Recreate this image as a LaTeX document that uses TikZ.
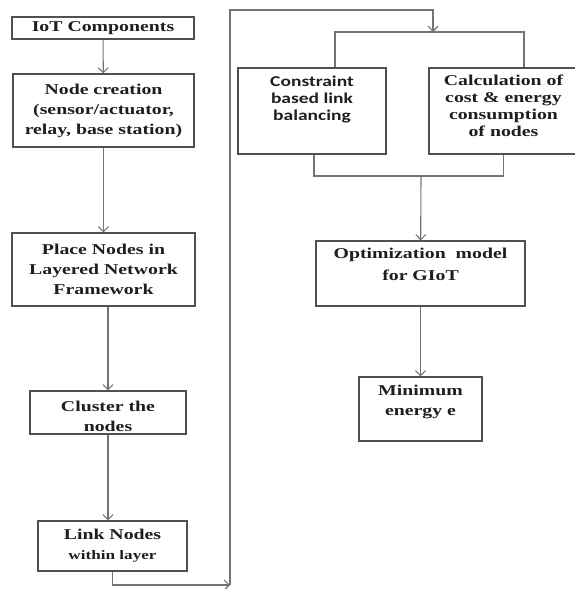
\documentclass[tikz,border=0pt]{standalone}
\usepackage{fontspec}
\setmainfont{Liberation Serif}[FakeStretch=1.32]
\newfontfamily\calfont{Carlito}[FakeStretch=1.3]
\usetikzlibrary{arrows.meta}
\definecolor{boxgray}{RGB}{80,80,80}
\definecolor{linegray}{RGB}{115,115,115}
\definecolor{textgray}{RGB}{30,30,30}
\tikzset{flow box/.style={rectangle,draw=boxgray,line width=1.1pt,align=center,inner sep=0pt,text=textgray,font=\fontsize{15}{20}\selectfont\bfseries},}
\tikzset{flow line/.style={draw=linegray,line width=1.1pt},}
\tikzset{flow arrow/.style={flow line,-{Straight Barb[length=5pt,width=10pt]}},}

\begin{document}
\begin{tikzpicture}[x=1pt,y=-1pt]
   \useasboundingbox (0,0) rectangle (574,589);

   % left column
   \node[flow box,minimum width=182pt,minimum height=22pt] (iot) at (103,28) {IoT Components};
   \node[flow box,minimum width=181pt,minimum height=73pt] (create) at (103.5,110.5) {Node creation\\(sensor/actuator,\\relay, base station)};
   \node[flow box,minimum width=183pt,minimum height=73pt] (place) at (103.5,269.5) {Place Nodes in\\Layered Network\\Framework};
   \node[flow box,minimum width=156pt,minimum height=43pt,text height=40pt,text depth=3pt] (cluster) at (108,412.5) {Cluster the\\nodes};
   \node[flow box,minimum width=149pt,minimum height=50pt] (link) at (112.5,546) {Link Nodes\\{\fontsize{13}{15}\selectfont within layer}};

   % right column
   \node[flow box,minimum width=148pt,minimum height=86pt,text depth=25pt,font=\fontsize{15}{17}\selectfont\bfseries\calfont] (constr) at (312,111) {Constraint\\based link\\balancing};
   \node[flow box,minimum width=149pt,minimum height=86pt,text depth=10pt,font=\fontsize{15}{17}\selectfont\bfseries] (calc) at (503.5,111) {Calculation of\\cost \& energy\\consumption\\of nodes};
   \node[flow box,minimum width=209pt,minimum height=65pt,text depth=19pt,font=\fontsize{15}{22}\selectfont\bfseries] (optim) at (420.5,273.5) {Optimization\ \ model\\for GIoT};
   \node[flow box,minimum width=123pt,minimum height=64pt,text depth=18pt] (mine) at (420.5,409) {Minimum\\energy e};

   \coordinate (turn) at (230,585);
   \coordinate (top) at (230,10);
   \coordinate (merge) at (433,32);
   \coordinate (split) at (421,176);

   \draw[flow arrow] (iot) -- (create);
   \draw[flow arrow] (create) -- (place);
   \draw[flow arrow] (cluster.north |- place.south) -- (cluster);
   \draw[flow arrow] (cluster) -- (cluster.south |- link.north);
   \draw[flow arrow] (link.south) |- (turn);
   \draw[flow arrow] (turn) -- (top) -| (merge);
   \draw[flow line] ([xshift=23pt]constr.north) |- (merge) -| ([xshift=20.5pt]calc.north);
   \draw[flow line] ([xshift=2pt]constr.south) |- (split) -| (calc.south);
   \draw[flow arrow] (split) -- (optim);
   \draw[flow arrow] (optim) -- (mine);
\end{tikzpicture}
\end{document}
